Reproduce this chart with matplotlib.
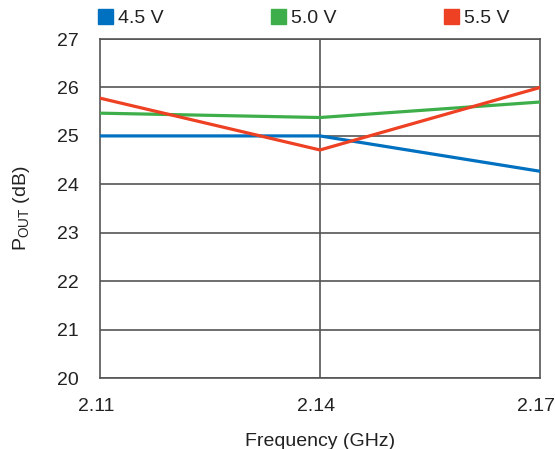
import matplotlib
matplotlib.use("Agg")
import matplotlib.pyplot as plt
from matplotlib.transforms import ScaledTranslation

# data
freq = [2.11, 2.14, 2.17]
pout_45 = [25.0, 25.0, 24.27]
pout_50 = [25.47, 25.38, 25.70]
pout_55 = [25.78, 24.71, 26.0]
series_labels = ["4.5 V", "5.0 V", "5.5 V"]
x_ticks = [2.11, 2.14, 2.17]
y_ticks = list(range(20, 28))

COLORS = ["#0070C0", "#3DAE49", "#EE4023"]
GRID = "#555555"
TEXT = "#222222"
FONT = "Liberation Sans"
FS = 14

plt.rcParams["font.family"] = [FONT, "DejaVu Sans"]
plt.rcParams["mathtext.fontset"] = "custom"
plt.rcParams["mathtext.rm"] = FONT

fig = plt.figure(figsize=(5.55, 4.49), dpi=100)
ax = fig.add_axes([0.180, 0.158, 0.793, 0.755])

for vals, lab, c in zip([pout_45, pout_50, pout_55], series_labels, COLORS):
    ax.plot(freq, vals, color=c, linewidth=2.3, label=lab, zorder=3)

ax.set_xlim(2.11, 2.17)
ax.set_ylim(20, 27)
ax.set_xticks(x_ticks)
ax.set_xticklabels([f"{v:.2f}" for v in x_ticks])
ax.set_yticks(y_ticks)
ax.tick_params(length=0, labelsize=FS, colors=TEXT)
ax.tick_params(axis="x", pad=14)
ax.tick_params(axis="y", pad=15)

# x tick labels sit a few pixels left of their gridlines in the reference
shift = ScaledTranslation(-4 / 100, 0, fig.dpi_scale_trans)
for lbl in ax.get_xticklabels():
    lbl.set_transform(lbl.get_transform() + shift)

for y in y_ticks:
    ax.axhline(y, color=GRID, linewidth=1.2, zorder=1)
ax.axvline(2.14, color=GRID, linewidth=1.2, zorder=1)
for s in ax.spines.values():
    s.set_edgecolor(GRID)
    s.set_linewidth(1.2)

ax.set_xlabel("Frequency (GHz)", fontsize=FS, labelpad=13, color=TEXT)
ax.set_ylabel(r"$\mathregular{P_{OUT}}$ (dB)", fontsize=FS, labelpad=18, color=TEXT)

handles = [plt.Rectangle((0, 0), 1, 1, color=c) for c in COLORS]
ax.legend(handles, series_labels, ncol=3, loc="lower left",
          bbox_to_anchor=(-0.005, 1.035), frameon=False, fontsize=FS,
          handlelength=0.8, handleheight=0.8, handletextpad=0.25,
          columnspacing=5.5, borderaxespad=0, borderpad=0,
          labelcolor=TEXT)

fig.savefig("out.png", dpi=100)
